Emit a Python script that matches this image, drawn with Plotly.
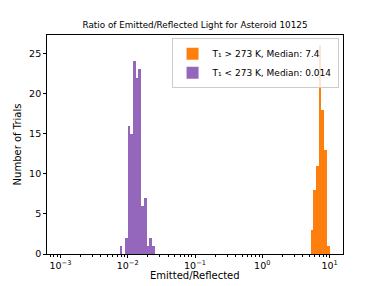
import numpy as np
import plotly.graph_objects as go

# Histogram data (bins in log10 space, width 0.04 decades)
bin_width = 0.04
warm_first_edge = 0.72
warm_counts = [3, 8, 11, 26, 18, 13, 1]
cold_first_edge = -2.12
cold_counts = [1, 0, 2, 16, 15, 24, 22, 23, 6, 7, 1, 2, 1]
warm_label = "T\u2081 > 273 K, Median: 7.4"
cold_label = "T\u2081 < 273 K, Median: 0.014"
major_exps = [-3, -2, -1, 0, 1]
major_labels = ["10<sup>\u22123</sup>", "10<sup>\u22122</sup>", "10<sup>\u22121</sup>",
                "10<sup>0</sup>", "10<sup>1</sup>"]
y_ticks = [0, 5, 10, 15, 20, 25]
x_title = "Emitted/Reflected"
y_title = "Number of Trials"
chart_title = "Ratio of Emitted/Reflected Light for Asteroid 10125"

def centers(first, n):
    return [first + bin_width * (i + 0.5) for i in range(n)]

fig = go.Figure()
fig.add_trace(go.Bar(x=centers(warm_first_edge, len(warm_counts)), y=warm_counts,
                     width=bin_width, name=warm_label,
                     marker=dict(color="#ff7f0e", line=dict(width=0))))
fig.add_trace(go.Bar(x=centers(cold_first_edge, len(cold_counts)), y=cold_counts,
                     width=bin_width, name=cold_label,
                     marker=dict(color="#9467bd", line=dict(width=0))))

minor = [np.log10(k * 10.0 ** e) for e in range(-4, 2) for k in range(2, 10)]
minor = [m for m in minor if -3.2 < m < 1.2]

font = "DejaVu Sans"
fig.update_layout(
    width=381, height=286,
    margin=dict(l=47, r=38, t=35, b=32),
    paper_bgcolor="white", plot_bgcolor="white",
    barmode="overlay", bargap=0,
    font=dict(family=font, size=10, color="black"),
    title=dict(text=chart_title,
               x=0.5, xanchor="center", xref="paper", yref="paper", y=1,
               yanchor="bottom", pad=dict(b=7),
               font=dict(size=8.8)),
    showlegend=True,
    legend=dict(x=0.985, y=0.985, xanchor="right", yanchor="top",
                bgcolor="rgba(255,255,255,0.8)", bordercolor="#cccccc", borderwidth=1,
                font=dict(size=9), tracegroupgap=0, itemwidth=30),
    annotations=[dict(text=x_title, xref="paper", yref="paper", x=0.5, y=-0.1,
                      xanchor="center", yanchor="middle", showarrow=False,
                      font=dict(size=10))],
)
fig.update_xaxes(range=[-3.2, 1.2], tickmode="array", tickvals=major_exps,
                 ticktext=major_labels, ticks="outside", ticklen=3, tickwidth=0.8,
                 tickcolor="black", showline=True, linecolor="black", linewidth=0.8,
                 mirror=True, showgrid=False, zeroline=False, automargin=False,
                 tickfont=dict(size=9.5),
                 minor=dict(tickmode="array", tickvals=minor, ticks="outside",
                            ticklen=1.7, tickwidth=0.6, tickcolor="black", showgrid=False))
fig.update_yaxes(range=[0, 27.3], tickmode="array", tickvals=y_ticks,
                 ticks="outside", ticklen=3, tickwidth=0.8, tickcolor="black",
                 showline=True, linecolor="black", linewidth=0.8, mirror=True,
                 showgrid=False, zeroline=False, automargin=False, tickfont=dict(size=9.5),
                 title=dict(text=y_title, standoff=5, font=dict(size=10)))

fig.write_html("out.html", config={"displayModeBar": False},
               post_script="document.body.style.margin='0';document.body.style.overflow='hidden';")
